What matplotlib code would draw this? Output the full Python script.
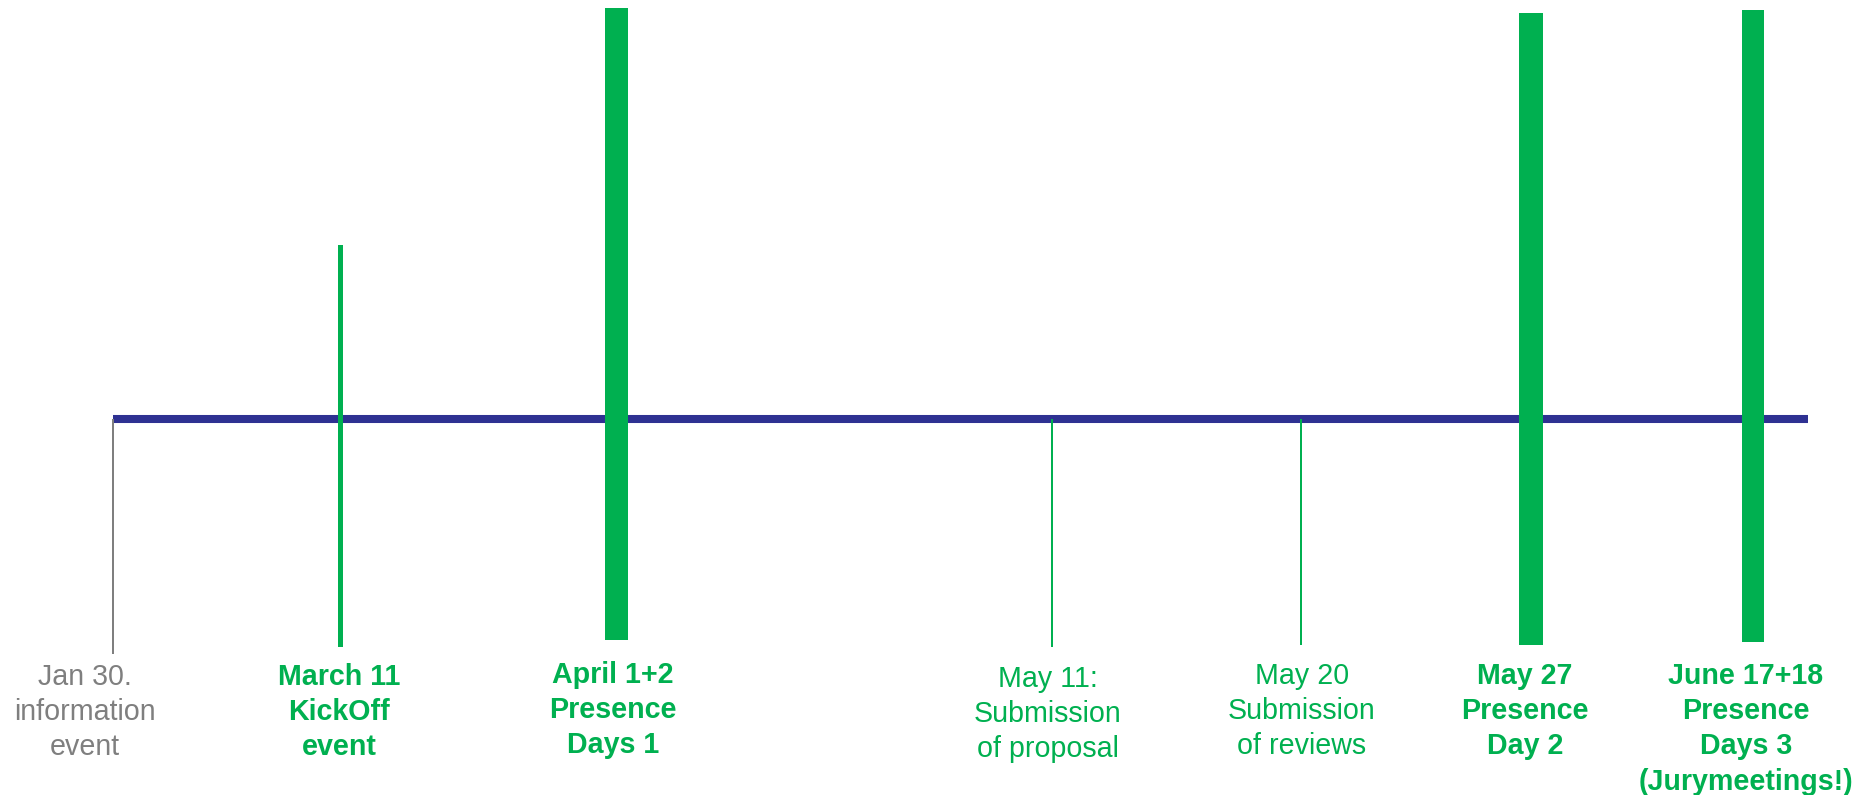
"""Timeline of the course dates (Jan 30 to June 17+18)."""

import matplotlib
matplotlib.use("Agg")
import matplotlib.pyplot as plt

W, H = 1872, 795
GREEN = "#00b050"
GRAY = "#7f7f7f"
NAVY = "#2e3192"
LINE_STEP = 35.2  # distance between two text lines, px

# events of the timeline
labels = [
    "Jan 30.\ninformation\nevent",
    "March 11\nKickOff\nevent",
    "April 1+2\nPresence\nDays 1",
    "May 11:\nSubmission\nof proposal",
    "May 20\nSubmission\nof reviews",
    "May 27\nPresence\nDay 2",
    "June 17+18\nPresence\nDays 3\n(Jurymeetings!)",
]
bold = [False, True, True, False, False, True, True]

# layout in pixels (x of each marker, top/bottom of marker, marker width)
x_pos = [113, 340, 616.5, 1052, 1301, 1531, 1753]
y_top = [419, 245, 8, 419, 419, 13, 10]
y_bot = [654, 647, 640, 647, 645, 645, 642]
widths = [2, 5, 23, 1.6, 1.6, 24, 22]
colors = [GRAY, GREEN, GREEN, GREEN, GREEN, GREEN, GREEN]
text_x = [85, 339, 613, 1048, 1302, 1525, 1746]
text_y = [685, 685, 683, 687, 684, 684, 684]

plt.rcParams["font.family"] = ["Liberation Sans", "DejaVu Sans"]

fig = plt.figure(figsize=(W / 100, H / 100), dpi=100)
ax = fig.add_axes([0, 0, 1, 1])
ax.set_xlim(0, W)
ax.set_ylim(H, 0)
ax.axis("off")

# main axis of the timeline
ax.plot([x_pos[0], 1808], [419, 419], color=NAVY, lw=5.8, solid_capstyle="butt", zorder=2)

for x, t, b, w, c in zip(x_pos, y_top, y_bot, widths, colors):
    ax.bar(x, b - t, bottom=t, width=w, color=c, linewidth=0, zorder=3)

for lab, tx, ty, bd, c in zip(labels, text_x, text_y, bold, colors):
    for i, ligne in enumerate(lab.split("\n")):
        ax.text(tx, ty + i * LINE_STEP, ligne, ha="center", va="baseline",
                fontsize=20.6, fontweight="bold" if bd else "normal", color=c)

fig.savefig("out.png", dpi=100)
plt.close(fig)
